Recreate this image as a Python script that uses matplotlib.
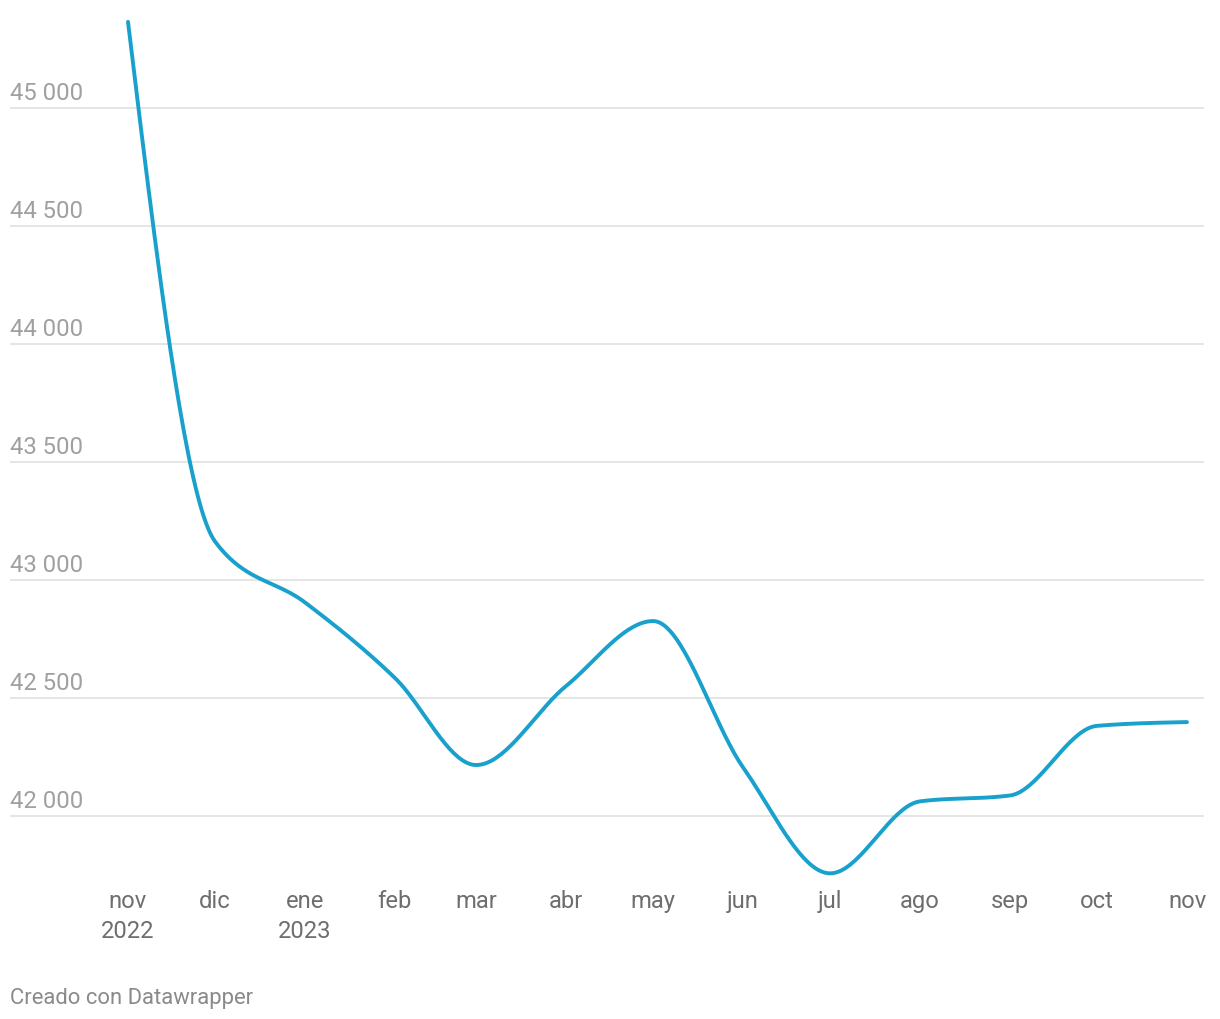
import numpy as np
import pandas as pd
import matplotlib
matplotlib.use("Agg")
import matplotlib.pyplot as plt
import matplotlib.transforms as mtransforms

plt.rcParams['font.family'] = ['Roboto', 'DejaVu Sans']

# Data (monthly, first day of each month)
dates = pd.date_range("2022-11-01", "2023-11-01", freq="MS")
values = [45365, 43163, 42905, 42585, 42216, 42551, 42826,
          42206, 41757, 42062, 42087, 42382, 42398]

month_labels = ["nov", "dic", "ene", "feb", "mar", "abr", "may",
                "jun", "jul", "ago", "sep", "oct", "nov"]
year_labels = {0: "2022", 2: "2023"}

y_ticks = [42000, 42500, 43000, 43500, 44000, 44500, 45000]
y_tick_labels = ["42 000", "42 500", "43 000", "43 500", "44 000", "44 500", "45 000"]


def monotone_x(x, y, n=40):
    # cubic Hermite with d3 curveMonotoneX tangents
    x = np.asarray(x, float)
    y = np.asarray(y, float)
    h = np.diff(x)
    s = np.diff(y) / h
    m = np.zeros_like(y)
    for i in range(1, len(y) - 1):
        p = (s[i - 1] * h[i] + s[i] * h[i - 1]) / (h[i - 1] + h[i])
        m[i] = (np.sign(s[i - 1]) + np.sign(s[i])) * min(abs(s[i - 1]), abs(s[i]), 0.5 * abs(p))
    m[0] = (3 * s[0] - m[1]) / 2
    m[-1] = (3 * s[-1] - m[-2]) / 2
    xs, ys = [], []
    for i in range(len(h)):
        t = np.linspace(0, 1, n)
        h00 = 2 * t**3 - 3 * t**2 + 1
        h10 = t**3 - 2 * t**2 + t
        h01 = -2 * t**3 + 3 * t**2
        h11 = t**3 - t**2
        xs.append(x[i] + t * h[i])
        ys.append(h00 * y[i] + h10 * h[i] * m[i] + h01 * y[i + 1] + h11 * h[i] * m[i + 1])
    return np.concatenate(xs), np.concatenate(ys)


days = (dates - dates[0]).days.values.astype(float)
cx, cy = monotone_x(days, values)

W, H = 1220, 1020
fig = plt.figure(figsize=(W / 100, H / 100), dpi=100)
ax_left, ax_right, ax_top, ax_bottom = 10, 1204, 10, 880
ax = fig.add_axes([ax_left / W, 1 - ax_bottom / H, (ax_right - ax_left) / W, (ax_bottom - ax_top) / H])

# pixel mapping: x 128 -> day 0, 1187 -> day 365 ; y 108 -> 45000, 816 -> 42000
px_per_day = (1187 - 128) / 365.0
ax.set_xlim(-(128 - ax_left) / px_per_day, 365 + (ax_right - 1187) / px_per_day)
px_per_unit = (817 - 109) / 3000.0
ax.set_ylim(42000 - (ax_bottom - 817) / px_per_unit, 45000 + (109 - ax_top) / px_per_unit)

for v in y_ticks:
    ax.axhline(v, color="#e3e3e3", lw=1.3, zorder=1)

ax.plot(cx, cy, color="#18a1cd", lw=2.8, solid_capstyle="round", clip_on=False, zorder=3)

for spine in ax.spines.values():
    spine.set_visible(False)
ax.set_xticks([])
ax.set_yticks([])

ylab_tr = mtransforms.offset_copy(ax.get_yaxis_transform(), fig=fig, x=0, y=9, units="dots")
for v, lab in zip(y_ticks, y_tick_labels):
    ax.text(0, v, lab, transform=ylab_tr, ha="left", va="baseline",
            fontsize=17.2, color="#a0a0a0", zorder=2)

for i, (d, lab) in enumerate(zip(days, month_labels)):
    tr = mtransforms.offset_copy(ax.get_xaxis_transform(), fig=fig, x=0, y=-(908 - ax_bottom), units="dots")
    ax.text(d, 0, lab, transform=tr, ha="center", va="baseline", fontsize=17.1, color="#6e6e6e")
    if i in year_labels:
        tr2 = mtransforms.offset_copy(ax.get_xaxis_transform(), fig=fig, x=0, y=-(938 - ax_bottom), units="dots")
        ax.text(d, 0, year_labels[i], transform=tr2, ha="center", va="baseline", fontsize=17.1, color="#6e6e6e")

fig.text(10 / W, 1 - 1004 / H, "Creado con Datawrapper", ha="left", va="baseline",
         fontsize=15.8, color="#8a8a8a")

fig.savefig("out.png", dpi=100, facecolor="white")
